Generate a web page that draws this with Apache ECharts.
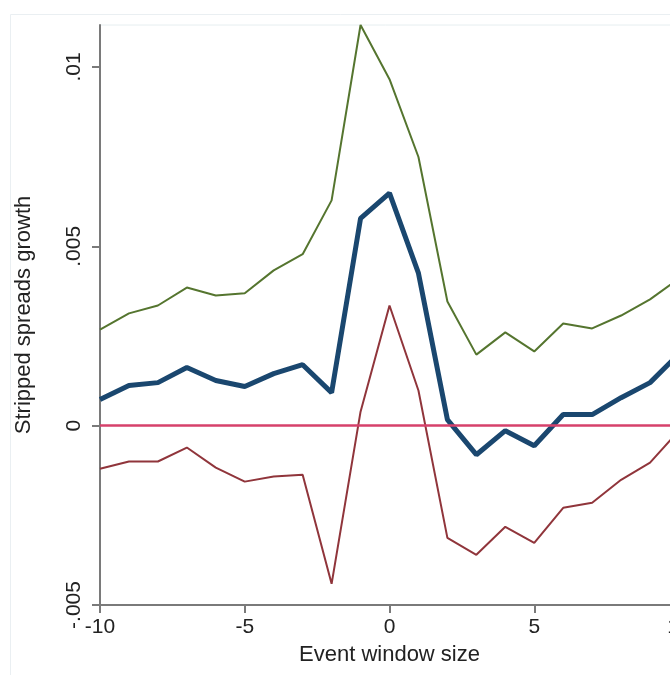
<!DOCTYPE html>
<html lang="en">
<head>
    <meta charset="UTF-8">
    <title>Stripped spreads growth</title>
    <script src="https://cdn.jsdelivr.net/npm/echarts@6/dist/echarts.min.js"></script>
    <style>
        html, body { margin: 0; padding: 0; background: #fff; }
        #chart { width: 670px; height: 675px; }
    </style>
</head>
<body>
<div id="chart"></div>
<script>
    // event window (days)
    const windowDays = [-10, -9, -8, -7, -6, -5, -4, -3, -2, -1, 0, 1, 2, 3, 4, 5, 6, 7, 8, 9, 10];
    // point estimate
    const estimate = [0.00073, 0.00112, 0.0012, 0.00162, 0.00126, 0.00109, 0.00145, 0.0017, 0.00092, 0.00578,
        0.00648, 0.00425, 0.00017, -0.00081, -0.00014, -0.00056, 0.00031, 0.00031, 0.00078, 0.0012, 0.002];
    // upper bound
    const upperBand = [0.00268, 0.00313, 0.00335, 0.00385, 0.00363, 0.00369, 0.00433, 0.00478, 0.00628, 0.01117,
        0.00966, 0.00749, 0.00346, 0.00198, 0.0026, 0.00207, 0.00285, 0.00271, 0.00307, 0.00352, 0.0041];
    // lower bound
    const lowerBand = [-0.0012, -0.001, -0.001, -0.00061, -0.00117, -0.00156, -0.00142, -0.00137, -0.00441, 0.00039,
        0.00335, 0.00098, -0.00313, -0.0036, -0.00282, -0.00327, -0.00229, -0.00215, -0.00151, -0.00103, -0.00014];
    const yTicks = [-0.005, 0, 0.005, 0.01];
    const yTickText = ['-.005', '0', '.005', '.01'];

    const pairs = arr => windowDays.map((d, i) => [d, arr[i]]);
    const font = '"Liberation Sans", Arial, sans-serif';

    const chart = echarts.init(document.getElementById('chart'));
    chart.setOption({
        animation: false,
        backgroundColor: '#fff',
        graphic: [{
            type: 'rect',
            shape: { x: 10.5, y: 14.5, width: 700, height: 700 },
            style: { fill: 'none', stroke: '#eaeff2', lineWidth: 1 },
            z: -1
        }],
        grid: {
            left: 100, top: 25, width: 579, height: 580,
            outerBoundsMode: 'none',
            show: true, borderColor: '#e6eef0', borderWidth: 1
        },
        xAxis: {
            type: 'value',
            min: -10, max: 10, interval: 5,
            name: 'Event window size',
            nameLocation: 'middle',
            nameGap: 39,
            nameTextStyle: { fontFamily: font, fontSize: 22, color: '#222' },
            axisLine: { onZero: false, lineStyle: { color: '#7a7a7a', width: 2 } },
            axisTick: { show: true, length: 8, lineStyle: { color: '#7a7a7a', width: 2 } },
            axisLabel: { fontFamily: font, fontSize: 21, color: '#222', margin: 12 },
            splitLine: { show: false }
        },
        yAxis: {
            type: 'value',
            min: -0.005, max: 0.01117, interval: 0.005,
            name: 'Stripped spreads growth',
            nameLocation: 'middle',
            nameGap: 65,
            nameTextStyle: { fontFamily: font, fontSize: 22, color: '#222' },
            axisLine: { show: true, onZero: false, lineStyle: { color: '#7a7a7a', width: 2 } },
            axisTick: { show: true, length: 8, customValues: yTicks, lineStyle: { color: '#7a7a7a', width: 2 } },
            axisLabel: {
                fontFamily: font, fontSize: 21, color: '#222', margin: 15, rotate: 90,
                customValues: yTicks,
                formatter: v => {
                    const k = yTicks.findIndex(t => Math.abs(t - v) < 1e-9);
                    return k >= 0 ? yTickText[k] : '';
                }
            },
            splitLine: { show: false }
        },
        series: [
            {
                name: 'upper', type: 'line', data: pairs(upperBand),
                symbol: 'none', lineStyle: { color: '#55752f', width: 2 }, z: 2
            },
            {
                name: 'lower', type: 'line', data: pairs(lowerBand),
                symbol: 'none', lineStyle: { color: '#90353b', width: 2 }, z: 2
            },
            {
                name: 'estimate', type: 'line', data: pairs(estimate),
                symbol: 'none', lineStyle: { color: '#1a476f', width: 5 }, z: 3,
                markLine: {
                    silent: true, symbol: 'none', label: { show: false },
                    lineStyle: { color: '#d6416b', width: 2.5, type: 'solid' },
                    data: [{ yAxis: 0 }],
                    z: 4
                }
            }
        ]
    });
</script>
</body>
</html>
